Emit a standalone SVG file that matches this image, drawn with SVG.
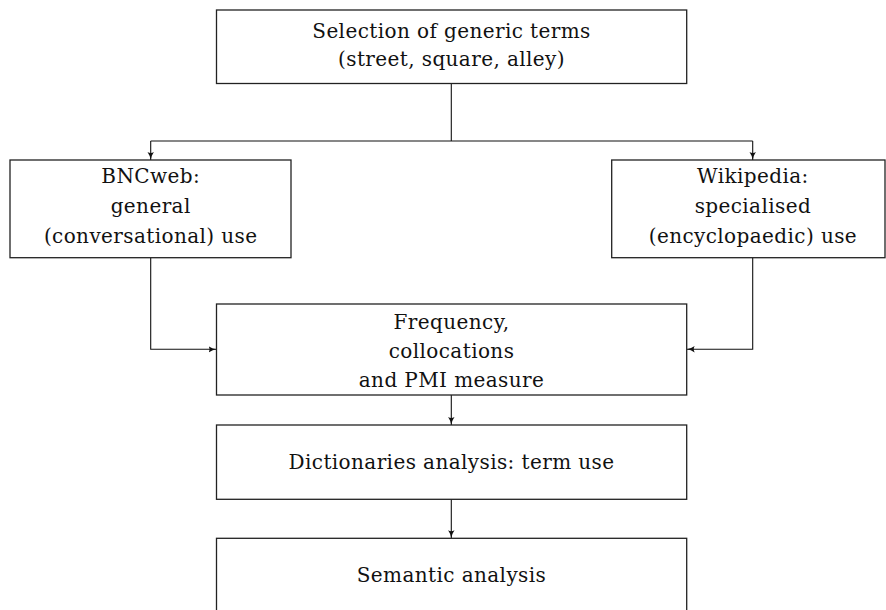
<svg xmlns="http://www.w3.org/2000/svg" width="886" height="610" viewBox="0 0 886 610">
<style>
.box{fill:#fff;stroke:#222;stroke-width:1.3}
.t{font-family:"DejaVu Serif","Liberation Serif",serif;font-size:20px;letter-spacing:0.4px;fill:#111;text-anchor:middle}
.c{fill:none;stroke:#111;stroke-width:1.1}
</style>
<defs>
<marker id="ah" viewBox="0 0 10 10" refX="10" refY="5" markerWidth="8" markerHeight="8" markerUnits="userSpaceOnUse" orient="auto">
<path d="M0,1 Q5,4.5 10,5 Q5,5.5 0,9 Q2.5,5 0,1 Z" fill="#111"/>
</marker>
</defs>
<rect width="886" height="610" fill="#fff"/>
<g id="connectors">
<path class="c" d="M451.3,83.5 V141"/>
<path class="c" d="M150.7,141 H752.7"/>
<path class="c" d="M150.7,141 V160" marker-end="url(#ah)"/>
<path class="c" d="M752.7,141 V160" marker-end="url(#ah)"/>
<path class="c" d="M150.7,257.7 V349.3 H216.5" marker-end="url(#ah)"/>
<path class="c" d="M752.7,257.7 V349.3 H686.7" marker-end="url(#ah)"/>
<path class="c" d="M451.3,395 V425" marker-end="url(#ah)"/>
<path class="c" d="M451.3,499.3 V538.3" marker-end="url(#ah)"/>
</g>
<g id="n1">
<rect class="box" x="216.5" y="10" width="470.2" height="73.5"/>
<text class="t" x="451.5" y="37.7">Selection of generic terms</text>
<text class="t" x="451.5" y="65.7">(street, square, alley)</text>
</g>
<g id="n2">
<rect class="box" x="10" y="160" width="281" height="97.7"/>
<text class="t" x="150.7" y="183.3">BNCweb:</text>
<text class="t" x="150.7" y="213">general</text>
<text class="t" x="150.7" y="243">(conversational) use</text>
</g>
<g id="n3">
<rect class="box" x="611.7" y="160" width="273.3" height="97.7"/>
<text class="t" x="752.9" y="183.3">Wikipedia:</text>
<text class="t" x="752.9" y="213">specialised</text>
<text class="t" x="752.9" y="243">(encyclopaedic) use</text>
</g>
<g id="n4">
<rect class="box" x="216.5" y="304" width="470.2" height="91"/>
<text class="t" x="451.5" y="329.3">Frequency,</text>
<text class="t" x="451.5" y="358.3">collocations</text>
<text class="t" x="451.5" y="386.7">and PMI measure</text>
</g>
<g id="n5">
<rect class="box" x="216.5" y="425" width="470.2" height="74.3"/>
<text class="t" x="451.5" y="469.3">Dictionaries analysis: term use</text>
</g>
<g id="n6">
<rect class="box" x="216.5" y="538.3" width="470.2" height="80"/>
<text class="t" x="451.5" y="581.7">Semantic analysis</text>
</g>
</svg>
